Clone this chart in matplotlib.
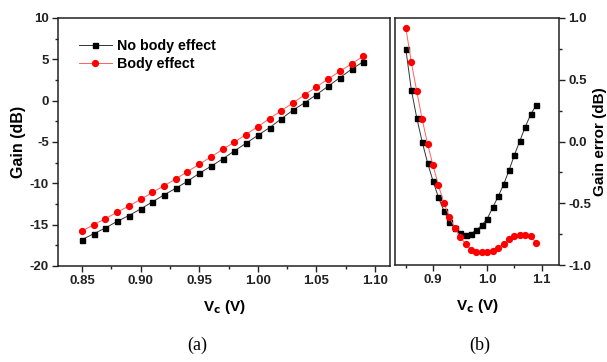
import numpy as np
import matplotlib.pyplot as plt
from matplotlib.ticker import MultipleLocator

plt.rcParams['font.family'] = ['Liberation Sans', 'DejaVu Sans']
plt.rcParams['font.weight'] = 'bold'
plt.rcParams['axes.unicode_minus'] = False

# control voltage sweep, 0.85 .. 1.09 V
vc = [0.85, 0.86, 0.87, 0.88, 0.89, 0.90, 0.91, 0.92, 0.93, 0.94, 0.95, 0.96, 0.97,
      0.98, 0.99, 1.00, 1.01, 1.02, 1.03, 1.04, 1.05, 1.06, 1.07, 1.08, 1.09]

gain_nobody = [-16.8, -16.1, -15.4, -14.6, -13.9, -13.1, -12.25, -11.4, -10.6, -9.75,
               -8.8, -7.94, -7.05, -6.08, -5.15, -4.2, -3.27, -2.2, -1.15, -0.25,
               0.73, 1.74, 2.78, 3.8, 4.72]
gain_body = [-15.76, -15.0, -14.27, -13.5, -12.73, -11.95, -11.1, -10.3, -9.47, -8.58,
             -7.7, -6.8, -5.9, -5.0, -4.1, -3.14, -2.17, -1.2, -0.28, 0.71,
             1.66, 2.63, 3.55, 4.47, 5.37]

err_nobody = [0.745, 0.42, 0.193, -0.002, -0.173, -0.32, -0.453, -0.561, -0.648, -0.70,
              -0.737, -0.756, -0.745, -0.718, -0.677, -0.624, -0.534, -0.445, -0.348,
              -0.233, -0.108, 0.006, 0.12, 0.22, 0.295]
err_body = [0.919, 0.642, 0.409, 0.181, -0.019, -0.193, -0.355, -0.496, -0.61, -0.697,
            -0.772, -0.829, -0.876, -0.894, -0.894, -0.894, -0.884, -0.859, -0.827,
            -0.791, -0.767, -0.758, -0.758, -0.767, -0.821]

W, H = 607, 362
fig = plt.figure(figsize=(W / 100, H / 100), dpi=100)

def box(x0, y0, x1, y1):
    return [x0 / W, 1 - y1 / H, (x1 - x0) / W, (y1 - y0) / H]

ax1 = fig.add_axes(box(58, 18, 390, 266))
ax2 = fig.add_axes(box(395, 18, 559, 265))

blk = dict(color='#333333', marker='s', ms=3.6, lw=0.7, mec='black', mfc='black')
red = dict(color='#ff6060', marker='o', ms=4.2, lw=0.7, mec='red', mfc='red')

ax1.plot(vc, gain_nobody, label='No body effect', **blk)
ax1.plot(vc, gain_body, label='Body effect', **red)
ax2.plot(vc, err_nobody, **blk)
ax2.plot(vc, err_body, **red)

for ax in (ax1, ax2):
    for s in ax.spines.values():
        s.set_linewidth(1.1)
        s.set_color('#222222')
    ax.tick_params(which='both', direction='out', width=1.0, colors='#222222',
                   labelsize=9.5, top=False, pad=2.5)
    ax.tick_params(which='major', length=4)
    ax.tick_params(which='minor', length=2.5)

ax1.set_xlim(0.8295, 1.1128)
ax1.set_ylim(-20, 10)
ax1.xaxis.set_major_locator(MultipleLocator(0.05))
ax1.xaxis.set_minor_locator(MultipleLocator(0.025))
ax1.yaxis.set_major_locator(MultipleLocator(5))
ax1.yaxis.set_minor_locator(MultipleLocator(2.5))
ax1.xaxis.set_major_formatter(plt.FormatStrFormatter('%.2f'))
ax1.tick_params(which='both', right=False)
ax1.set_ylabel('Gain (dB)', fontsize=11.5, fontweight='bold', labelpad=3)
ax1.set_xlabel('V$_\\mathbf{c}$ (V)', fontsize=11, fontweight='bold', labelpad=8)

ax2.set_xlim(0.83, 1.132)
ax2.set_ylim(-1, 1)
ax2.xaxis.set_major_locator(MultipleLocator(0.1))
ax2.xaxis.set_minor_locator(MultipleLocator(0.05))
ax2.yaxis.set_major_locator(MultipleLocator(0.5))
ax2.yaxis.set_minor_locator(MultipleLocator(0.25))
ax2.xaxis.set_major_formatter(plt.FormatStrFormatter('%.1f'))
ax2.yaxis.set_major_formatter(plt.FormatStrFormatter('%.1f'))
ax2.yaxis.tick_right()
ax2.yaxis.set_label_position('right')
ax2.tick_params(which='both', left=False, right=True)
ax2.set_ylabel('Gain error (dB)', fontsize=11, fontweight='bold')
ax2.yaxis.set_label_coords(1.205, 0.5)
ax2.set_xlabel('V$_\\mathbf{c}$ (V)', fontsize=11, fontweight='bold', labelpad=8)

for ax in (ax1, ax2):
    for lab in ax.get_xticklabels() + ax.get_yticklabels():
        lab.set_fontweight('bold')

ax1.legend(loc='upper left', bbox_to_anchor=(0.045, 0.94), frameon=False,
           fontsize=10.3, handlelength=2.3, handletextpad=0.4, labelspacing=0.3,
           borderaxespad=0)

fig.text(197 / W, 1 - 345 / H, '(a)', ha='center', va='center', fontsize=13,
         family='Liberation Serif', fontweight='normal')
fig.text(480 / W, 1 - 345 / H, '(b)', ha='center', va='center', fontsize=13,
         family='Liberation Serif', fontweight='normal')

fig.savefig('out.png', dpi=100)
